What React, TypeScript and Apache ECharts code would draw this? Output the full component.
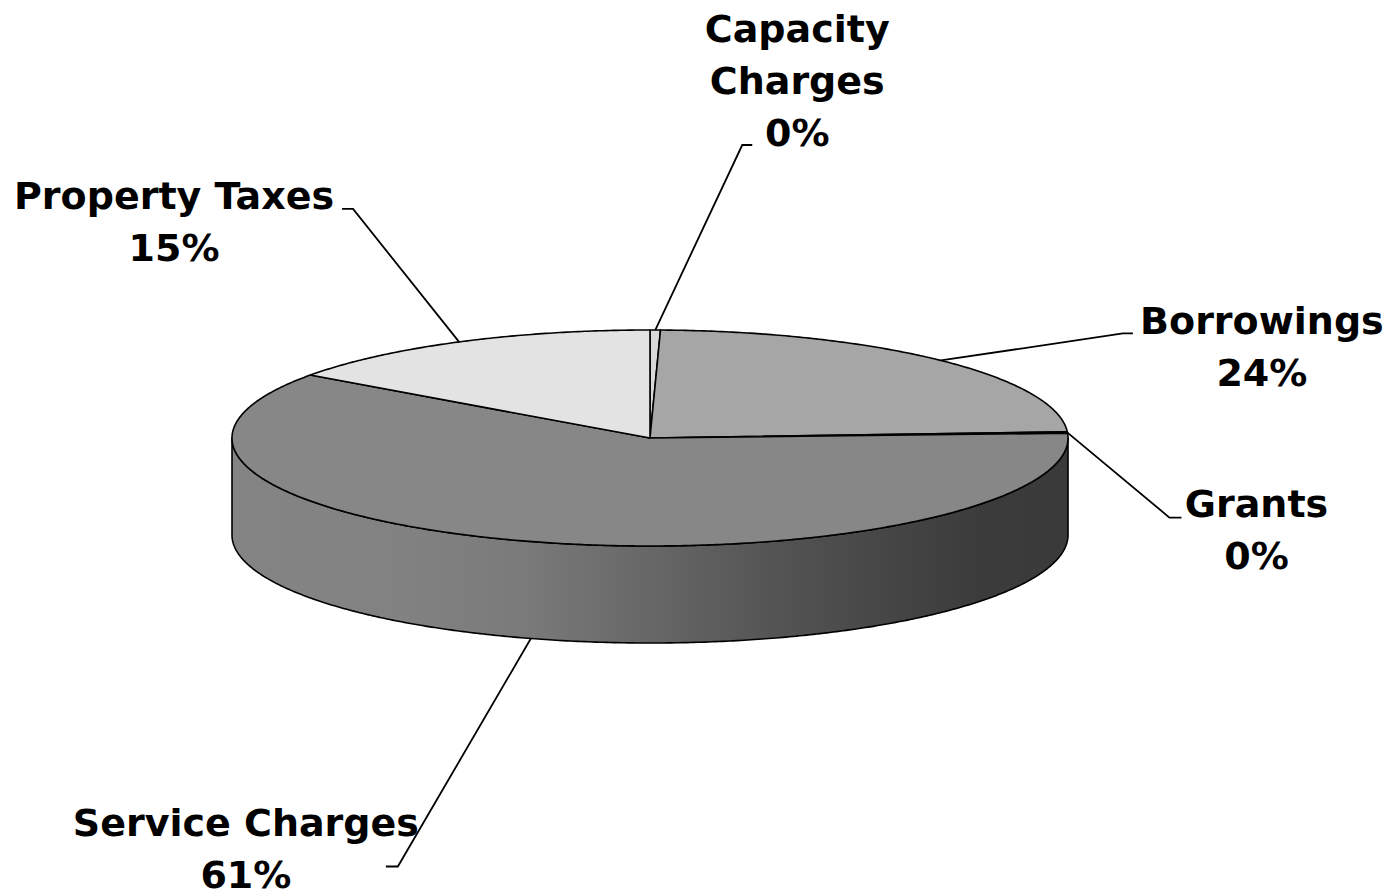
import React, { useEffect, useRef } from 'react';
import * as echarts from 'echarts';

// ---- data ----
const categories = ['Capacity Charges', 'Borrowings', 'Grants', 'Service Charges', 'Property Taxes'];
const shares = [0.4, 23.7, 0.2, 60.6, 15.1];
const labelNames = ['Capacity\nCharges', 'Borrowings', 'Grants', 'Service Charges', 'Property Taxes'];

// ---- styles / layout ----
const topColors = ['#d9d9d9', '#a6a6a6', '#bfbfbf', '#878787', '#e3e3e3'];
const PIE = { cx: 650, cy: 438, rx: 418, ry: 108, depth: 97 };
const SIDE_SHADE: [number, number][] = [
  [0, 0.98], [0.2, 0.96], [0.35, 0.9], [0.5, 0.76], [0.65, 0.62], [0.8, 0.5], [0.9, 0.44], [1, 0.43],
];
// elbow: offset from rim anchor; tail: horizontal segment; text: offset of text centre from line end
const LABEL_LAYOUT = [
  { elbow: [87, -185], tail: 10, text: [45, -64] },
  { elbow: [182, -27], tail: 10, text: [129, 14] },
  { elbow: [102, 85], tail: 12, text: [75, 12] },
  { elbow: [-133, 228], tail: -12, text: [-140, -18] },
  { elbow: [-106, -133], tail: -11, text: [-168, 13] },
];
const FONT = 'bold 38px "DejaVu Sans", Verdana, sans-serif';

function shade(hex: string, f: number) {
  const n = parseInt(hex.slice(1), 16);
  const r = Math.round(((n >> 16) & 255) * f);
  const g = Math.round(((n >> 8) & 255) * f);
  const b = Math.round((n & 255) * f);
  return `rgb(${r},${g},${b})`;
}

function pt(theta: number, dy: number) {
  return [PIE.cx + PIE.rx * Math.sin(theta), PIE.cy - PIE.ry * Math.cos(theta) + dy];
}

function arc(a: number, b: number, dy: number) {
  const steps = Math.max(2, Math.ceil(Math.abs(b - a) / (Math.PI / 360)));
  const out: number[][] = [];
  for (let k = 0; k <= steps; k++) out.push(pt(a + ((b - a) * k) / steps, dy));
  return out;
}

export default function App() {
  const ref = useRef<HTMLDivElement>(null);
  useEffect(() => {
    if (!ref.current) return;
    const chart = echarts.init(ref.current, null, { renderer: 'svg' });
    const total = shares.reduce((s, v) => s + v, 0);

    const renderItem = (params: any) => {
      const i = params.dataIndex;
      let cum = 0;
      for (let j = 0; j < i; j++) cum += shares[j];
      const a0 = (cum / total) * Math.PI * 2;
      const a1 = ((cum + shares[i]) / total) * Math.PI * 2;
      const children: any[] = [];
      const stroke = { stroke: '#000', lineWidth: 1.6, lineJoin: 'round' };

      children.push({
        type: 'polygon',
        z2: 10,
        shape: { points: [[PIE.cx, PIE.cy], ...arc(a0, a1, 0)] },
        style: { fill: topColors[i], ...stroke },
      });

      const lo = Math.max(a0, Math.PI / 2);
      const hi = Math.min(a1, (Math.PI * 3) / 2);
      if (hi > lo) {
        const pts = [...arc(lo, hi, 0), ...arc(hi, lo, PIE.depth)];
        const xs = pts.map((p) => p[0]);
        const bx0 = Math.min(...xs);
        const bx1 = Math.max(...xs);
        const left = PIE.cx - PIE.rx;
        const stops = SIDE_SHADE.map(([o, f]) => {
          const gx = left + o * 2 * PIE.rx;
          const off = Math.min(1, Math.max(0, (gx - bx0) / Math.max(1, bx1 - bx0)));
          return { offset: off, color: shade(topColors[i], f) };
        });
        children.push({
          type: 'polygon',
          z2: 5,
          shape: { points: pts },
          style: {
            fill: new echarts.graphic.LinearGradient(0, 0, 1, 0, stops),
            ...stroke,
          },
        });
      }

      const mid = (a0 + a1) / 2;
      const anchor = pt(mid, Math.cos(mid) < 0 ? PIE.depth : 0);
      const lay = LABEL_LAYOUT[i];
      const elbow = [anchor[0] + lay.elbow[0], anchor[1] + lay.elbow[1]];
      const end = [elbow[0] + lay.tail, elbow[1]];
      children.push({
        type: 'polyline',
        z2: 20,
        shape: { points: [anchor, elbow, end] },
        style: { stroke: '#000', lineWidth: 1.8, fill: null },
      });
      const pct = Math.round((shares[i] / total) * 100);
      children.push({
        type: 'text',
        z2: 20,
        x: end[0] + lay.text[0],
        y: end[1] + lay.text[1],
        style: {
          text: `${labelNames[i]}\n${pct}%`,
          font: FONT,
          fill: '#000',
          align: 'center',
          verticalAlign: 'middle',
          lineHeight: 52,
        },
      });
      return { type: 'group', children };
    };

    chart.setOption({
      animation: false,
      backgroundColor: '#ffffff',
      series: [
        {
          type: 'custom',
          coordinateSystem: 'none',
          silent: true,
          renderItem,
          data: shares.map((v, i) => ({ name: categories[i], value: v })),
        },
      ],
    });
    return () => chart.dispose();
  }, []);
  return (
    <div
      ref={ref}
      style={{ position: 'fixed', left: 0, top: 0, width: 1400, height: 894, background: '#fff' }}
    />
  );
}
